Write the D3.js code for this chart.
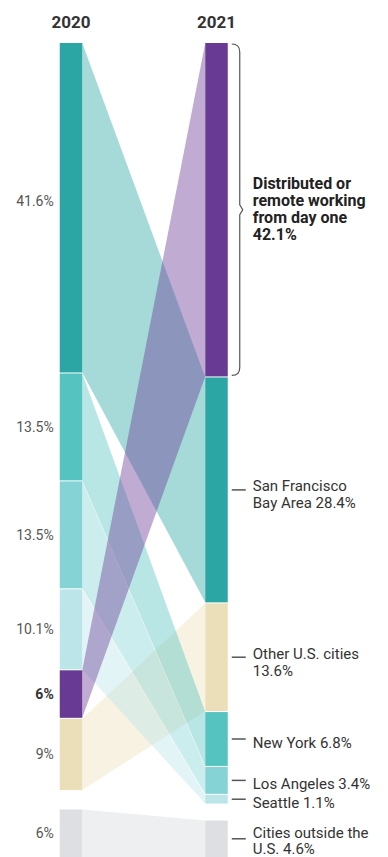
<!DOCTYPE html>
<html>
<head>
<meta charset="utf-8">
<script src="https://cdn.jsdelivr.net/npm/d3@7"></script>
<style>
	body { margin: 0; background: #fff; }
	svg { display: block; font-family: Roboto, 'Open Sans', sans-serif; }
</style>
</head>
<body>
<svg id="chart" width="388" height="857"></svg>
<script>
//startup locations, 2020 vs 2021 (share of startups, %)
const years = ['2020', '2021'];

const cats2020 = ['San Francisco Bay Area', 'New York', 'Los Angeles', 'Seattle', 'Distributed', 'Other U.S. cities', 'Outside U.S.'];
const values2020 = [41.6, 13.5, 13.5, 10.1, 6, 9, 6];
const labels2020 = ['41.6%', '13.5%', '13.5%', '10.1%', '6%', '9%', '6%'];

const cats2021 = ['Distributed', 'San Francisco Bay Area', 'Other U.S. cities', 'New York', 'Los Angeles', 'Seattle', 'Outside U.S.'];
const values2021 = [42.1, 28.4, 13.6, 6.8, 3.4, 1.1, 4.6];
const labels2021 = [
	['Distributed or', 'remote working', 'from day one', '42.1%'],
	['San Francisco', 'Bay Area 28.4%'],
	['Other U.S. cities', '13.6%'],
	['New York 6.8%'],
	['Los Angeles 3.4%'],
	['Seattle 1.1%'],
	['Cities outside the', 'U.S. 4.6%']
];

const colorCats = ['Distributed', 'San Francisco Bay Area', 'New York', 'Los Angeles', 'Seattle', 'Other U.S. cities', 'Outside U.S.'];
const colorVals = ['#683a93', '#2ba6a5', '#55c4c0', '#86d3d5', '#bbe5e9', '#ebdfba', '#dedfe2'];

const topY = 43;
const bottomY = 857;
const barW = 22.5;
const gap = 1; //white gap between stacked segments
const lineH = 17;

const svg = d3.select('#chart');

const x = d3
	.scalePoint() //column centres
	.domain(years)
	.range([71, 216.5]);

const h = d3
	.scaleLinear() //percent -> pixel height
	.domain([0, 100])
	.range([0, 792]);

const color = d3.scaleOrdinal().domain(colorCats).range(colorVals);

//stack the U.S. (and remote) segments from the top, the foreign one from the bottom
function stack(cats, vals) {
	const out = {};
	let y = topY;
	cats.forEach((c, i) => {
		if (c === 'Outside U.S.') return;
		out[c] = { cat: c, v: vals[i], y0: y, y1: y + h(vals[i]) };
		y += h(vals[i]) + gap;
	});
	const j = cats.indexOf('Outside U.S.');
	out['Outside U.S.'] = { cat: 'Outside U.S.', v: vals[j], y0: bottomY - h(vals[j]), y1: bottomY };
	return out;
}

const s2020 = stack(cats2020, values2020);
const s2021 = stack(cats2021, values2021);

//flows: each 2020 segment to the same place in 2021
const flowOrder = ['Outside U.S.', 'Other U.S. cities', 'Seattle', 'Los Angeles', 'New York', 'San Francisco Bay Area', 'Distributed'];
const xa = x('2020') + barW / 2;
const xb = x('2021') - barW / 2;

svg
	.append('g')
	.selectAll('path')
	.data(flowOrder)
	.enter()
	.append('path')
	.attr('d', (c) => {
		const a = s2020[c];
		const b = s2021[c];
		return `M${xa},${a.y0}L${xb},${b.y0}L${xb},${b.y1}L${xa},${a.y1}Z`;
	})
	.attr('fill', (c) => color(c))
	.attr('fill-opacity', (c) => (c === 'Outside U.S.' ? 0.5 : 0.42));

//bars
const bars2020 = cats2020.map((c) => s2020[c]);
const bars2021 = cats2021.map((c) => s2021[c]);

svg
	.append('g')
	.selectAll('rect')
	.data(bars2020)
	.enter()
	.append('rect')
	.attr('x', x('2020') - barW / 2)
	.attr('y', (d) => d.y0)
	.attr('width', barW)
	.attr('height', (d) => d.y1 - d.y0)
	.attr('fill', (d) => color(d.cat));

svg
	.append('g')
	.selectAll('rect')
	.data(bars2021)
	.enter()
	.append('rect')
	.attr('x', x('2021') - barW / 2)
	.attr('y', (d) => d.y0)
	.attr('width', barW)
	.attr('height', (d) => d.y1 - d.y0)
	.attr('fill', (d) => color(d.cat));

//year headers
svg
	.append('g')
	.selectAll('text')
	.data(years)
	.enter()
	.append('text')
	.attr('x', (d) => x(d))
	.attr('y', 28)
	.attr('text-anchor', 'middle')
	.style('font-size', '17px')
	.style('font-weight', 'bold')
	.attr('fill', '#333')
	.text((d) => d);

//2020 percent labels
svg
	.append('g')
	.selectAll('text')
	.data(bars2020)
	.enter()
	.append('text')
	.attr('x', x('2020') - barW / 2 - 6)
	.attr('y', (d, i) => (d.y0 + d.y1) / 2 + (i === 0 ? -2 : 5))
	.attr('text-anchor', 'end')
	.style('font-size', '14px')
	.style('font-weight', (d) => (d.cat === 'Distributed' ? 'bold' : 'normal'))
	.attr('fill', (d) => (d.cat === 'Distributed' ? '#333' : '#555'))
	.text((d, i) => labels2020[i]);

//2021 annotations
const ann = svg.append('g');
const tx = x('2021') + barW / 2 + 25; //text start
const bx = x('2021') + barW / 2 + 4; //tick / brace start

bars2021.forEach((d, i) => {
	const mid = (d.y0 + d.y1) / 2;
	const lines = labels2021[i];
	if (d.cat === 'Distributed') {
		//curly brace spanning the segment
		ann
			.append('path')
			.attr('d', `M${bx},${d.y0 + 1}Q${bx + 8},${d.y0 + 1} ${bx + 8},${d.y0 + 9}V${mid - 5}L${bx + 11},${mid}L${bx + 8},${mid + 5}V${d.y1 - 9}Q${bx + 8},${d.y1 - 1} ${bx},${d.y1 - 1}`)
			.attr('fill', 'none')
			.attr('stroke', '#555')
			.attr('stroke-width', 1.2);
		const t = ann
			.append('text')
			.attr('y', mid - 1.5 * lineH + 5)
			.style('font-size', '16px')
			.style('font-weight', 'bold')
			.attr('fill', '#222');
		lines.forEach((l, j) => t.append('tspan').attr('x', tx).attr('dy', j ? lineH : 0).text(l));
		return;
	}
	ann
		.append('line')
		.attr('x1', bx)
		.attr('x2', bx + 14)
		.attr('y1', mid)
		.attr('y2', mid)
		.attr('stroke', '#555')
		.attr('stroke-width', 1.5);
	//keep the last line inside the picture
	let y = mid + (lines.length === 1 ? 9 : 1.5);
	y = Math.min(y, bottomY - 3 - (lines.length - 1) * (lineH - 1));
	const t = ann
		.append('text')
		.attr('y', y)
		.style('font-size', '15px')
		.attr('fill', '#333');
	lines.forEach((l, j) => t.append('tspan').attr('x', tx).attr('dy', j ? (lines.length === 2 && i === 6 ? lineH - 1 : lineH) : 0).text(l));
});
</script>
</body>
</html>
